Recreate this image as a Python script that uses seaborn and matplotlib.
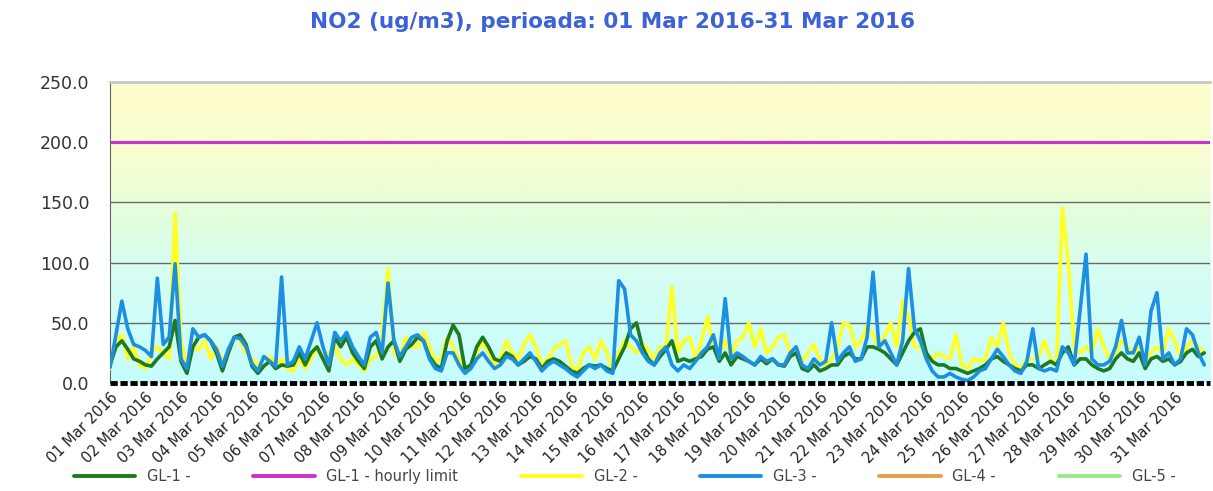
import numpy as np
import matplotlib
matplotlib.use("Agg")
import matplotlib.pyplot as plt
from matplotlib.colors import LinearSegmentedColormap
from matplotlib.lines import Line2D
import seaborn as sns

# 4-hourly readings, one row per day (hours 0, 4, 8, 12, 16, 20)
gl1 = [15, 30, 35, 28, 20, 18,
       15, 14, 20, 25, 30, 52,
       18, 8, 30, 38, 40, 35,
       25, 10, 25, 38, 40, 32,
       14, 8, 14, 18, 12, 15,
       14, 15, 25, 15, 25, 30,
       20, 10, 38, 30, 38, 25,
       18, 12, 30, 35, 20, 30,
       35, 18, 28, 32, 38, 35,
       22, 15, 12, 35, 48, 40,
       12, 15, 30, 38, 30, 20,
       18, 25, 22, 15, 18, 22,
       20, 12, 18, 20, 18, 14,
       10, 8, 12, 15, 14, 15,
       12, 10, 20, 30, 45, 50,
       30, 20, 15, 22, 28, 35,
       18, 20, 18, 20, 22, 28,
       30, 18, 25, 15, 22, 20,
       18, 15, 20, 16, 20, 15,
       14, 22, 25, 12, 10, 15,
       10, 12, 15, 15, 22, 25,
       20, 20, 30, 30, 28, 25,
       20, 15, 25, 35, 42, 45,
       25, 18, 15, 15, 12, 12,
       10, 8, 10, 12, 15, 20,
       22, 18, 15, 12, 10, 15,
       15, 12, 15, 18, 15, 25,
       30, 15, 20, 20, 15, 12,
       10, 12, 20, 25, 20, 18,
       25, 12, 20, 22, 18, 20,
       15, 18, 25, 28, 22, 25]

gl2 = [12, 35, 40, 20, 30, 15,
       12, 25, 30, 25, 20, 141,
       35, 15, 30, 28, 35, 20,
       30, 18, 25, 38, 35, 25,
       20, 15, 20, 22, 15, 20,
       12, 10, 20, 12, 20, 30,
       20, 25, 30, 20, 15, 20,
       15, 10, 20, 22, 40, 95,
       25, 20, 38, 30, 30, 42,
       30, 18, 20, 38, 30, 20,
       10, 15, 25, 35, 25, 15,
       20, 35, 25, 20, 32, 40,
       30, 15, 20, 28, 32, 35,
       15, 10, 25, 30, 20, 35,
       25, 10, 25, 35, 30, 25,
       32, 28, 20, 30, 30, 80,
       25, 35, 38, 20, 35, 55,
       30, 25, 35, 22, 35, 38,
       50, 30, 45, 25, 30, 38,
       40, 25, 28, 18, 25, 32,
       20, 15, 20, 30, 50, 48,
       30, 35, 48, 40, 30, 40,
       50, 30, 68, 55, 30, 30,
       20, 20, 25, 22, 20, 40,
       15, 12, 20, 18, 20, 38,
       30, 50, 25, 15, 12, 20,
       20, 22, 35, 20, 15, 145,
       100, 30, 25, 30, 25, 45,
       30, 20, 25, 35, 30, 25,
       30, 20, 25, 30, 25, 45,
       35, 20, 30, 35, 30, 25]

gl3 = [13, 40, 68, 45, 32, 30,
       27, 22, 87, 32, 38, 99,
       20, 12, 45, 38, 40, 35,
       28, 14, 28, 38, 37, 30,
       16, 10, 22, 18, 14, 88,
       15, 18, 30, 20, 35, 50,
       30, 15, 42, 35, 42, 30,
       22, 15, 38, 42, 25, 83,
       35, 22, 30, 38, 40, 35,
       20, 12, 10, 25, 25, 15,
       8, 12, 20, 25, 18, 12,
       15, 22, 20, 15, 20, 25,
       18, 10, 15, 18, 15, 12,
       8, 5, 10, 15, 12, 15,
       10, 8, 85, 78, 40, 35,
       25, 18, 15, 25, 30, 15,
       10, 15, 12, 18, 25, 30,
       40, 20, 70, 20, 25, 22,
       18, 15, 22, 18, 20, 15,
       15, 25, 30, 15, 12, 20,
       15, 18, 50, 18, 25, 30,
       18, 20, 38, 92, 30, 35,
       25, 15, 35, 95, 45, 35,
       20, 10, 5, 5, 8, 5,
       3, 2, 5, 10, 12, 20,
       28, 22, 15, 10, 8, 18,
       45, 12, 10, 12, 10, 30,
       25, 15, 60, 107, 20, 15,
       15, 18, 30, 52, 25, 25,
       38, 15, 60, 75, 20, 25,
       15, 20, 45, 40, 25, 15]

hours = np.arange(len(gl3)) * 4
hourly_limit = 200
day_labels = [f"{d:02d} Mar 2016" for d in range(1, 32)]
legend_names = ["GL-1 -", "GL-1 - hourly limit", "GL-2 -", "GL-3 -", "GL-4 -", "GL-5 -"]
legend_colors = ["#1E7A1E", "#D02ECF", "#FFFF22", "#1C8FE3", "#E2A04A", "#9BE88A"]

sns.set_style("white")
plt.rcParams['font.family'] = ['DejaVu Sans']

fig = plt.figure(figsize=(12.13, 4.91), dpi=100)
ax = fig.add_axes([0.0907, 0.22, 0.907, 0.613])

# background gradient
bg = LinearSegmentedColormap.from_list(
    "bg", [(0.0, "#C6FDFD"), (0.38, "#D6FEF2"), (0.55, "#E3FDDC"),
           (0.75, "#F8FDD2"), (1.0, "#FFFDCC")])
ax.imshow(np.linspace(0, 1, 256).reshape(-1, 1), cmap=bg, origin="lower",
          extent=[0, 744, 0, 250], aspect="auto", zorder=0)

for yv in [50, 100, 150]:
    ax.axhline(yv, color="#6A6A6A", lw=1.0, zorder=1)

ax.axhline(hourly_limit, color=legend_colors[1], lw=2.2, zorder=2)
sns.lineplot(x=hours, y=gl2, ax=ax, color=legend_colors[2], lw=2.6, zorder=3)
sns.lineplot(x=hours, y=gl1, ax=ax, color=legend_colors[0], lw=2.6, zorder=4)
sns.lineplot(x=hours, y=gl3, ax=ax, color=legend_colors[3], lw=2.6, zorder=5)

ax.set_xlim(0, 744)
ax.set_ylim(0, 250)
ax.set_yticks([0, 50, 100, 150, 200, 250])
ax.set_yticklabels([f"{v:.1f}" for v in [0, 50, 100, 150, 200, 250]],
                   fontsize=12.5, color="#333333")
ax.set_xticks(np.arange(31) * 24)
ax.set_xticklabels(day_labels, rotation=45, ha="right", rotation_mode="anchor",
                   fontsize=10.5, color="#222222")
ax.tick_params(axis="y", direction="out", length=7, color="#666666", pad=8)
ax.tick_params(axis="x", length=0, pad=5)

ax.spines["top"].set_color("#C8C8C8")
ax.spines["top"].set_linewidth(2)
ax.spines["right"].set_visible(False)
ax.spines["left"].set_color("#666666")
ax.spines["bottom"].set_color("black")
ax.spines["bottom"].set_linewidth(3.5)
ax.spines["bottom"].set_linestyle((0, (1.5, 0.55)))
ax.spines["bottom"].set_capstyle("butt")
ax.spines["bottom"].set_zorder(6)

fig.text(0.505, 0.955, "NO2 (ug/m3), perioada: 01 Mar 2016-31 Mar 2016",
         ha="center", va="center", fontsize=15.5, fontweight="bold", color="#3C62DA")

handles = [Line2D([0], [0], color=c, lw=2.8) for c in legend_colors]
fig.legend(handles, legend_names, loc="lower left", ncol=6, mode="expand",
           bbox_to_anchor=(0.055, 0.0, 0.92, 0.045), fontsize=10.5, handlelength=4.2,
           frameon=False, borderaxespad=0.1, labelcolor="#444444")

fig.savefig("out.png", dpi=100)
